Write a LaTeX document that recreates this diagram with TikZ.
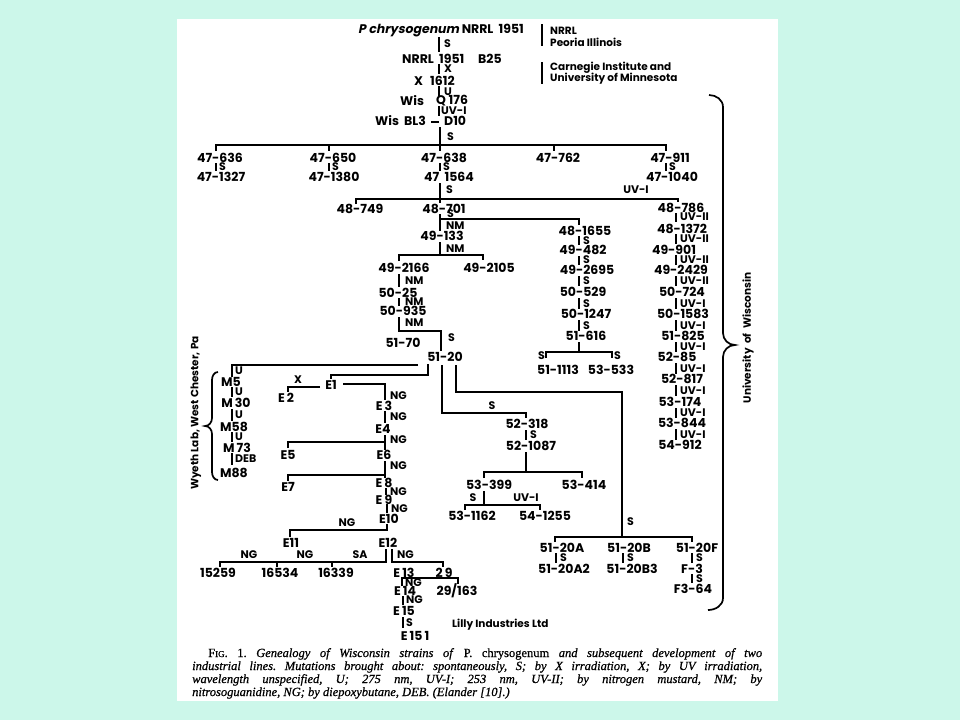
\documentclass[tikz,border=0pt]{standalone}
\usepackage{fontspec}
\setmainfont{Liberation Serif}[RawFeature={embolden=0.7}]
\newfontfamily\labfont{Poppins}
\newfontfamily\labit{Poppins}[FakeSlant=0.2]
\definecolor{bgc}{RGB}{204,247,234}
\begin{document}
\begin{tikzpicture}[x=1pt,y=-1pt,
  lab/.style={font=\labfont\bfseries\fontsize{12.5}{12.5}\selectfont, inner sep=0pt},
  mut/.style={font=\labfont\bfseries\fontsize{11}{11}\selectfont, inner sep=0pt, anchor=west},
  ann/.style={font=\labfont\bfseries\fontsize{10.5}{10.5}\selectfont, inner sep=0pt, anchor=west},
  ln/.style={line width=1.7pt},
  captext/.style={font=\fontsize{12.5}{13}\selectfont\frenchspacing, inner sep=0pt, anchor=base west}]
\fill[bgc] (0,0) rectangle (960,720);
\fill[white] (177,19) rectangle (778,701);
\useasboundingbox (0,0) rectangle (960,720);

% annotations top right
\draw[ln] (542,24)--(542,46);
\node[ann] (aNRRL) at (550,31) {NRRL};
\node[ann] (aPeo) at (550,42) {Peoria Illinois};
\draw[ln] (542,62)--(542,84);
\node[ann] (aCar) at (550,68) {Carnegie Institute and};
\node[ann] (aUni) at (550,79) {University of Minnesota};

% top chain
\node[lab,anchor=west] (pc) at (358,31) {{\labit\bfseries P chrysogenum} NRRL\ \ 1951};
\draw[ln] (439,37)--(439,52); \node[mut] (m1) at (444,44) {S};
\node[lab,anchor=west] (b25a) at (402,59) {NRRL};
\node[lab,anchor=west] (b25b) at (439,59) {1951};
\node[lab,anchor=west] (b25c) at (478,59) {B25};
\draw[ln] (439,64)--(439,74); \node[mut] (m2) at (444,69) {X};
\node[lab,anchor=west] (xa) at (414,81) {X};
\node[lab,anchor=west] (xb) at (430,81) {1612};
\draw[ln] (439,86)--(439,96); \node[mut] (m3) at (444,92) {U};
\node[lab,anchor=west] (qa) at (400,101) {Wis};
\node[lab,anchor=west] (qb) at (436,101) {Q 176};
\draw[ln] (439,106)--(439,116); \node[mut] (m4) at (441,111) {UV-I};
\node[lab,anchor=west] (bla) at (375,121) {Wis};
\node[lab,anchor=west] (blb) at (404,121) {BL3};
\draw[ln] (431,122)--(439,122);
\node[lab,anchor=west] (blc) at (444,121) {D10};
\draw[ln] (440,127)--(440,151); \node[mut] (m5) at (447,137) {S};

% 47 level
\draw[ln] (216,151)--(216,145)--(666,145)--(666,151);
\draw[ln] (329,145)--(329,151);
\draw[ln] (554,145)--(554,151);
\node[lab] (n47636) at (220,158) {47-636};
\node[lab] (n47650) at (333,158) {47-650};
\node[lab] (n47638) at (444,158) {47-638};
\node[lab] (n47762) at (558,158) {47-762};
\node[lab] (n47911) at (670,158) {47-911};
\foreach \x in {216,329,440,666}{\draw[ln] (\x,163)--(\x,171); \node[mut] at (\x+3,167) {S};}
\node[lab] (n471327) at (221,177) {47-1327};
\node[lab] (n471380) at (334,177) {47-1380};
\node[lab] (n471564) at (449,177) {47\ \ 1564};
\node[lab] (n471040) at (672,177) {47-1040};

% 48 level
\draw[ln] (440,183)--(440,203);
\draw[ln] (356,204)--(356,199)--(678,199)--(678,202);
\node[mut] (m6) at (446,190) {S};
\node[mut,anchor=center] (m7) at (636,190) {UV-I};
\node[lab] (n48749) at (360,209) {48-749};
\node[lab] (n48701) at (444,209) {48-701};
\node[lab] (n48786) at (681,208) {48-786};

% below 48-701
\draw[ln] (440,214)--(440,231);
\draw[ln] (440,219)--(579,219)--(579,225);
\node[mut] (m8) at (447,214) {S};
\node[mut] (m9) at (446,226) {NM};
\node[lab] (n49133) at (442,236) {49-133};
\draw[ln] (440,242)--(440,255);
\draw[ln] (399,261)--(399,255)--(483,255)--(483,260);
\node[mut] (m10) at (446,249) {NM};
\node[lab] (n492166) at (404,268) {49-2166};
\node[lab] (n492105) at (489,268) {49-2105};
\draw[ln] (399,274)--(399,287); \node[mut] (m11) at (405,281) {NM};
\node[lab] (n5025) at (398,293) {50-25};
\draw[ln] (399,298)--(399,306); \node[mut] (m12) at (405,302) {NM};
\node[lab] (n50935) at (403,311) {50-935};
\draw[ln] (399,317)--(399,331)--(441,331)--(441,351);
\node[mut] (m13) at (405,323) {NM};
\node[mut] (m14) at (448,338) {S};
\node[lab] (n5170) at (403,343) {51-70};
\node[lab] (n5120) at (445,357) {51-20};

% middle column
\node[lab] (n481655) at (585,231) {48-1655};
\draw[ln] (579,236)--(579,245); \node[mut] at (583,241) {S};
\node[lab] (n49482) at (583,250) {49-482};
\draw[ln] (579,256)--(579,265); \node[mut] at (583,260) {S};
\node[lab] (n492695) at (587,270) {49-2695};
\draw[ln] (579,276)--(579,286); \node[mut] at (583,281) {S};
\node[lab] (n50529) at (583,292) {50-529};
\draw[ln] (579,298)--(579,309); \node[mut] at (583,304) {S};
\node[lab] (n501247) at (586,314) {50-1247};
\draw[ln] (579,320)--(579,331); \node[mut] at (583,326) {S};
\node[lab] (n51616) at (586,336) {51-616};
\draw[ln] (579,342)--(579,352);
\draw[ln] (546,358)--(546,352)--(612,352)--(612,358);
\node[mut,anchor=east] at (545,356) {S};
\node[mut] at (614,356) {S};
\node[lab] (n511113) at (558,370) {51-1113};
\node[lab] (n53533) at (611,370) {53-533};

% right column (Wisconsin)
\draw[ln] (676,213)--(676,222); \node[mut] at (680,217) {UV-II};
\node[lab] (n481372) at (682,229) {48-1372};
\draw[ln] (676,234)--(676,244); \node[mut] at (680,239) {UV-II};
\node[lab] (n49901) at (674,250) {49-901};
\draw[ln] (676,255)--(676,265); \node[mut] at (680,260) {UV-II};
\node[lab] (n492429) at (681,270) {49-2429};
\draw[ln] (676,276)--(676,286); \node[mut] at (680,281) {UV-II};
\node[lab] (n50724) at (682,292) {50-724};
\draw[ln] (676,298)--(676,309); \node[mut] at (680,304) {UV-I};
\node[lab] (n501583) at (683,314) {50-1583};
\draw[ln] (676,320)--(676,331); \node[mut] at (680,326) {UV-I};
\node[lab] (n51825) at (683,336) {51-825};
\draw[ln] (676,342)--(676,352); \node[mut] at (680,347) {UV-I};
\node[lab] (n5285) at (677,357) {52-85};
\draw[ln] (676,363)--(676,374); \node[mut] at (680,369) {UV-I};
\node[lab] (n52817) at (682,379) {52-817};
\draw[ln] (676,385)--(676,396); \node[mut] at (680,391) {UV-I};
\node[lab] (n53174) at (680,402) {53-174};
\draw[ln] (676,408)--(676,418); \node[mut] at (680,413) {UV-I};
\node[lab] (n53844) at (682,423) {53-844};
\draw[ln] (676,429)--(676,440); \node[mut] at (680,435) {UV-I};
\node[lab] (n54912) at (680,445) {54-912};

% right brace
\draw[ln] (709,95) to[out=0,in=90] (723,107) -- (723,333) to[out=-90,in=180] (735,345)
  to[out=180,in=90] (723,357) -- (723,598) to[out=-90,in=0] (708,610);
\node[ann,anchor=center,rotate=90] (uw) at (748,338) {University\ \ of\ \ Wisconsin};

% Wyeth line
\draw[ln] (418,365)--(232,365)--(232,377); \node[mut] at (235,371) {U};
\node[lab] (m5n) at (231,382) {M5};
\draw[ln] (232,387)--(232,397); \node[mut] at (235,392) {U};
\node[lab] (m30n) at (236,403) {M\,30};
\draw[ln] (232,409)--(232,421); \node[mut] at (235,415) {U};
\node[lab] (m58n) at (234,427) {M58};
\draw[ln] (232,432)--(232,442); \node[mut] at (235,437) {U};
\node[lab] (m73n) at (237,448) {M\,73};
\draw[ln] (232,453)--(232,465); \node[mut] at (235,459) {DEB};
\node[lab] (m88n) at (234,473) {M88};
\draw[ln] (218,372) to[out=180,in=90] (212,380) -- (212,418) to[out=-90,in=0] (205,426)
  to[out=0,in=90] (212,434) -- (212,472) to[out=-90,in=180] (218,480);
\node[ann,anchor=center,rotate=90] (wy) at (196,413) {Wyeth Lab, West Chester, Pa};

% Lilly line
\draw[ln] (428,364)--(428,375)--(331,375)--(331,379);
\node[lab] (e1) at (331,385) {E1};
\draw[ln] (320,387)--(288,387)--(288,392); \node[mut,anchor=center] at (298,380) {X};
\node[lab] (e2) at (286,398) {E\,2};
\draw[ln] (343,384)--(385,384)--(385,400); \node[mut] at (390,396) {NG};
\node[lab] (e3) at (384,406) {E\,3};
\draw[ln] (385,411)--(385,423); \node[mut] at (390,417) {NG};
\node[lab] (e4) at (383,429) {E4};
\draw[ln] (385,435)--(385,450);
\draw[ln] (288,448)--(288,442)--(385,442); \node[mut] at (390,440) {NG};
\node[lab] (e5) at (288,455) {E5};
\node[lab] (e6) at (384,455) {E6};
\draw[ln] (385,461)--(385,478);
\draw[ln] (288,481)--(288,475)--(385,475); \node[mut] at (390,466) {NG};
\node[lab] (e7) at (288,487) {E7};
\node[lab] (e8) at (384,483) {E\,8};
\draw[ln] (386,488)--(386,495); \node[mut] at (390,492) {NG};
\node[lab] (e9) at (384,500) {E\,9};
\draw[ln] (387,504)--(387,513); \node[mut] at (391,509) {NG};
\node[lab] (e10) at (389,519) {E10};
\draw[ln] (387,524)--(387,530)--(290,530)--(290,537);
\node[mut,anchor=center] at (347,523) {NG};
\node[lab] (e11) at (291,543) {E11};
\node[lab] (e12) at (388,543) {E12};
\draw[ln] (386,549)--(386,562)--(220,562)--(220,567);
\draw[ln] (277,562)--(277,567);
\draw[ln] (332,562)--(332,567);
\node[mut,anchor=center] at (249,555) {NG};
\node[mut,anchor=center] at (305,555) {NG};
\node[mut,anchor=center] at (360,555) {SA};
\node[lab] (s15259) at (218,573) {15259};
\node[lab] (s16534) at (280,573) {16534};
\node[lab] (s16339) at (336,573) {16339};
\draw[ln] (392,549)--(392,562)--(443,562)--(443,567);
\node[mut] at (397,555) {NG};
\node[lab] (e13) at (404,573) {E\,13};
\node[lab] (s29) at (444,573) {2\,9};
\draw[ln] (402,586)--(402,578)--(458,578)--(458,584);
\node[mut] at (405,583) {NG};
\node[lab] (e14) at (405,591) {E\,14};
\node[lab] (s29163) at (457,591) {29/163};
\draw[ln] (403,596)--(403,605); \node[mut] at (406,600) {NG};
\node[lab] (e15) at (404,611) {E\,15};
\draw[ln] (403,617)--(403,628); \node[mut] at (406,623) {S};
\node[lab] (e151) at (415,636) {E\,15\,1};
\node[ann] (lilly) at (452,625) {Lilly Industries Ltd};

% 52-318 branch
\draw[ln] (442,365)--(442,413)--(526,413)--(526,418);
\node[mut,anchor=center] at (492,406) {S};
\node[lab] (n52318) at (527,424) {52-318};
\draw[ln] (526,430)--(526,440); \node[mut] at (530,435) {S};
\node[lab] (n521087) at (531,446) {52-1087};
\draw[ln] (526,452)--(526,472);
\draw[ln] (484,478)--(484,472)--(582,472)--(582,478);
\node[lab] (n53399) at (489,485) {53-399};
\node[lab] (n53414) at (584,485) {53-414};
\draw[ln] (484,491)--(484,505);
\draw[ln] (465,510)--(465,505)--(540,505)--(540,510);
\node[mut,anchor=center] at (473,498) {S};
\node[mut,anchor=center] at (526,498) {UV-I};
\node[lab] (n531162) at (472,516) {53-1162};
\node[lab] (n541255) at (545,516) {54-1255};

% 51-20 A/B/F branch
\draw[ln] (456,365)--(456,392)--(622,392)--(622,537);
\node[mut] at (627,522) {S};
\draw[ln] (555,542)--(555,537)--(692,537)--(692,542);
\node[lab] (n5120a) at (562,548) {51-20A};
\node[lab] (n5120b) at (629,548) {51-20B};
\node[lab] (n5120f) at (697,548) {51-20F};
\draw[ln] (556,553)--(556,563); \node[mut] at (560,558) {S};
\draw[ln] (623,553)--(623,563); \node[mut] at (627,558) {S};
\draw[ln] (692,553)--(692,563); \node[mut] at (696,558) {S};
\node[lab] (n5120a2) at (564,569) {51-20A2};
\node[lab] (n5120b3) at (632,569) {51-20B3};
\node[lab] (nf3) at (692,569) {F-3};
\draw[ln] (692,574)--(692,583); \node[mut] at (696,579) {S};
\node[lab] (nf364) at (693,589) {F3-64};

% caption
\node[captext] (c1) at (208,657) {\makebox[554pt][s]{F{\small IG}. 1. \textit{Genealogy of Wisconsin strains of} P. chrysogenum \textit{and subsequent development of two}}};
\node[captext] (c2) at (192,670) {\makebox[570pt][s]{\textit{industrial lines. Mutations brought about: spontaneously, S; by X irradiation, X; by UV irradiation,}}};
\node[captext] (c3) at (192,683) {\makebox[570pt][s]{\textit{wavelength unspecified, U; 275 nm, UV-I; 253 nm, UV-II; by nitrogen mustard, NM; by}}};
\node[captext] (c4) at (192,696) {\textit{nitrosoguanidine, NG; by diepoxybutane, DEB. (Elander [10].)}};
\end{tikzpicture}
\end{document}
